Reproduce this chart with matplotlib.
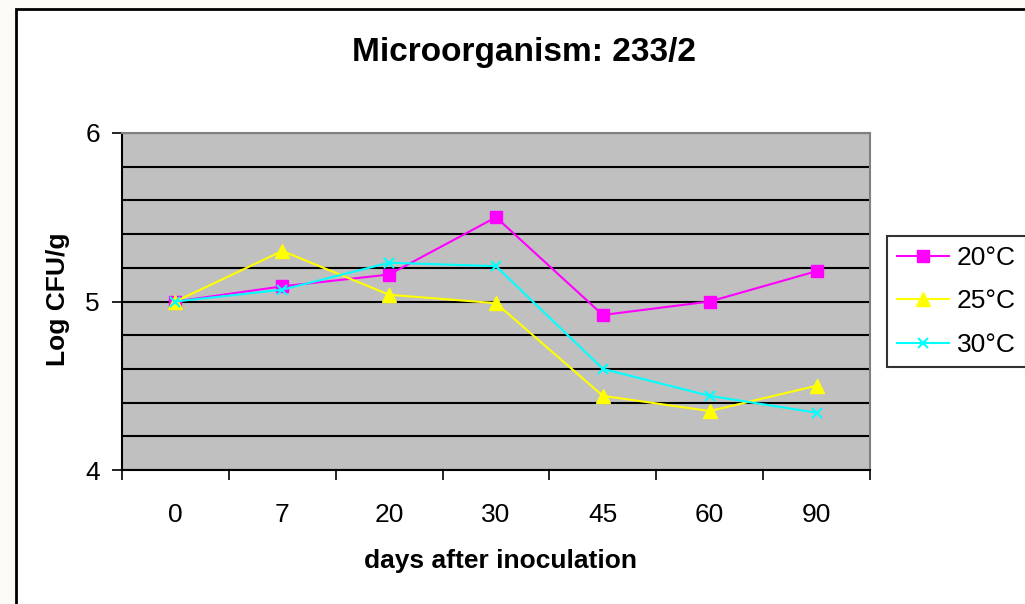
import matplotlib.pyplot as plt
from matplotlib.patches import Rectangle
from matplotlib.ticker import MultipleLocator, FixedLocator

plt.rcParams['font.family'] = ['Liberation Sans', 'DejaVu Sans']

# Dados
dias = ['0', '7', '20', '30', '45', '60', '90']
serie_20 = [5.0, 5.09, 5.16, 5.5, 4.92, 5.0, 5.18]
serie_25 = [5.0, 5.3, 5.04, 4.99, 4.44, 4.35, 4.5]
serie_30 = [5.0, 5.07, 5.23, 5.21, 4.6, 4.44, 4.34]
legendas = ['20°C', '25°C', '30°C']

W, H = 1025, 604
fig = plt.figure(figsize=(W / 100, H / 100), dpi=100, facecolor='#fdfbf6')

# Moldura do gráfico (estilo Excel)
fig.patches.append(Rectangle((16 / W, -0.05), 1.1, 1 - 9 / H + 0.05, transform=fig.transFigure,
                             facecolor='white', edgecolor='black', linewidth=2, zorder=-10))

ax = fig.add_axes([122 / W, 1 - 470 / H, (870 - 122) / W, (470 - 133) / H])
ax.set_facecolor('#c0c0c0')

x = list(range(len(dias)))
ax.plot(x, serie_20, color='#ff00ff', marker='s', markersize=8, linewidth=1.5, label=legendas[0], zorder=3)
ax.plot(x, serie_25, color='#ffff00', marker='^', markersize=10, linewidth=1.5, label=legendas[1], zorder=3)
ax.plot(x, serie_30, color='#00ffff', marker='x', markersize=7, markeredgewidth=1.5, linewidth=1.5,
        label=legendas[2], zorder=4)

ax.set_xlim(-0.5, len(dias) - 0.5)
ax.set_ylim(4, 6)

# Eixo Y: rótulos em 4, 5, 6 e grade a cada 0.2
ax.yaxis.set_major_locator(MultipleLocator(1))
ax.yaxis.set_minor_locator(MultipleLocator(0.2))
ax.grid(axis='y', which='both', color='black', linewidth=1.5)
ax.tick_params(axis='y', which='major', direction='out', length=7, width=1.2, labelsize=19, pad=9)
ax.tick_params(axis='y', which='minor', length=0)

# Eixo X: marcas entre categorias
ax.set_xticks(x)
ax.set_xticklabels(dias)
ax.xaxis.set_minor_locator(FixedLocator([i - 0.5 for i in range(len(dias) + 1)]))
ax.tick_params(axis='x', which='major', length=0, labelsize=19, pad=24)
ax.tick_params(axis='x', which='minor', direction='out', length=7, width=1.2)

for lado in ['top', 'right']:
    ax.spines[lado].set_color('#808080')
    ax.spines[lado].set_linewidth(1.5)
for lado in ['left', 'bottom']:
    ax.spines[lado].set_color('black')
    ax.spines[lado].set_linewidth(1.5)

fig.text(524 / W, 1 - 52 / H, 'Microorganism: 233/2', fontsize=24, fontweight='bold',
         ha='center', va='center')
ax.set_xlabel('days after inoculation', fontsize=19, fontweight='bold', va='center')
ax.xaxis.set_label_coords((501 - 122) / 748, (470 - 561) / 337)
ax.set_ylabel('Log CFU/g', fontsize=19, fontweight='bold', va='center')
ax.yaxis.set_label_coords((58 - 122) / 748, (470 - 299) / 337)

leg = ax.legend(loc='center', bbox_to_anchor=(890 / W, 1 - 367 / H, 133 / W, 131 / H),
                bbox_transform=fig.transFigure, fontsize=19, frameon=True, fancybox=False,
                edgecolor='black', handlelength=1.95, handletextpad=0.3, borderpad=0.4,
                labelspacing=0.73, borderaxespad=0)
leg.get_frame().set_linewidth(1.5)

fig.savefig('out.png', dpi=100, facecolor=fig.get_facecolor())
